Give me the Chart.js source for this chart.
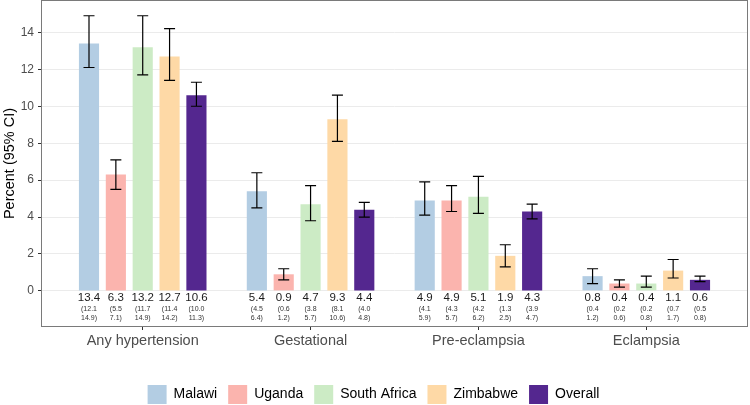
<!DOCTYPE html>
<html>
<head>
<meta charset="utf-8">
<script src="https://cdn.jsdelivr.net/npm/chart.js@4.4.1/dist/chart.umd.min.js"></script>
<style>
  html, body { margin: 0; padding: 0; background: #fff; }
  #wrap { width: 750px; height: 405px; }
</style>
</head>
<body>
<div id="wrap"><canvas id="chart" width="750" height="405"></canvas></div>
<script>
const categories = ["Any hypertension", "Gestational", "Pre-eclampsia", "Eclampsia"];
const countries = ["Malawi", "Uganda", "South Africa", "Zimbabwe", "Overall"];
const colors = ["#B3CDE3", "#FBB4AE", "#CCEBC5", "#FED9A6", "#54278F"];
const yTicks = [0, 2, 4, 6, 8, 10, 12, 14];

const malawi = [13.4, 5.4, 4.9, 0.8];
const malawiLow = [12.1, 4.5, 4.1, 0.4];
const malawiHigh = [14.9, 6.4, 5.9, 1.2];

const uganda = [6.3, 0.9, 4.9, 0.4];
const ugandaLow = [5.5, 0.6, 4.3, 0.2];
const ugandaHigh = [7.1, 1.2, 5.7, 0.6];

const southAfrica = [13.2, 4.7, 5.1, 0.4];
const southAfricaLow = [11.7, 3.8, 4.2, 0.2];
const southAfricaHigh = [14.9, 5.7, 6.2, 0.8];

const zimbabwe = [12.7, 9.3, 1.9, 1.1];
const zimbabweLow = [11.4, 8.1, 1.3, 0.7];
const zimbabweHigh = [14.2, 10.6, 2.5, 1.7];

const overall = [10.6, 4.4, 4.3, 0.6];
const overallLow = [10.0, 4.0, 3.9, 0.5];
const overallHigh = [11.3, 4.8, 4.7, 0.8];

const values = [malawi, uganda, southAfrica, zimbabwe, overall];
const lows = [malawiLow, ugandaLow, southAfricaLow, zimbabweLow, overallLow];
const highs = [malawiHigh, ugandaHigh, southAfricaHigh, zimbabweHigh, overallHigh];

const FONT = "'Liberation Sans', Arial, sans-serif";

// error bars + value / CI labels under each bar, panel border
const barExtras = {
    id: "barExtras",
    beforeInit(chart) {
        // legend sits lower than chart.js puts it
        const fit = chart.legend.fit;
        chart.legend.fit = function () {
            fit.bind(chart.legend)();
            this.height -= 9;
        };
    },
    afterDatasetsDraw(chart) {
        const ctx = chart.ctx;
        const y = chart.scales.y;
        ctx.save();
        chart.data.datasets.forEach((ds, i) => {
            const meta = chart.getDatasetMeta(i);
            meta.data.forEach((bar, j) => {
                const x = bar.x;
                const top = y.getPixelForValue(ds.high[j]);
                const bot = y.getPixelForValue(ds.low[j]);
                ctx.strokeStyle = "#000";
                ctx.lineWidth = 1.2;
                ctx.beginPath();
                ctx.moveTo(x, top); ctx.lineTo(x, bot);
                ctx.moveTo(x - 5.5, top); ctx.lineTo(x + 5.5, top);
                ctx.moveTo(x - 5.5, bot); ctx.lineTo(x + 5.5, bot);
                ctx.stroke();

                ctx.textAlign = "center";
                ctx.textBaseline = "middle";
                ctx.fillStyle = "#1a1a1a";
                ctx.font = "11.5px " + FONT;
                ctx.fillText(ds.data[j].y.toFixed(1), x, y.getPixelForValue(-0.38));
                ctx.fillStyle = "#333";
                ctx.font = "7px " + FONT;
                ctx.fillText("(" + ds.low[j].toFixed(1), x, y.getPixelForValue(-0.97));
                ctx.fillText(ds.high[j].toFixed(1) + ")", x, y.getPixelForValue(-1.49));
            });
        });
        ctx.restore();
    },
    afterDraw(chart) {
        const a = chart.chartArea;
        const ctx = chart.ctx;
        ctx.save();
        ctx.strokeStyle = "#7a7a7a";
        ctx.lineWidth = 1;
        ctx.strokeRect(a.left - 0.5, a.top - 0.5, a.right - a.left + 1, a.bottom - a.top + 1);
        ctx.restore();
    }
};

new Chart(document.getElementById("chart"), {
    type: "bar",
    data: {
        datasets: countries.map((name, i) => ({
            label: name,
            data: values[i].map((v, j) => ({ x: j + 1, y: v })),
            low: lows[i],
            high: highs[i],
            backgroundColor: colors[i],
            borderWidth: 0,
            categoryPercentage: 0.8,
            barPercentage: 0.75
        }))
    },
    options: {
        responsive: false,
        animation: false,
        layout: { padding: { top: 1, right: 3, bottom: 0, left: 0 } },
        plugins: {
            tooltip: { enabled: false },
            legend: {
                position: "bottom",
                labels: {
                    boxWidth: 19,
                    boxHeight: 19,
                    padding: 11,
                    color: "#000",
                    font: { family: FONT, size: 14 }
                }
            }
        },
        scales: {
            x: {
                type: "linear",
                min: 0.4,
                max: 4.6,
                offset: false,
                afterBuildTicks: (s) => { s.ticks = categories.map((c, i) => ({ value: i + 1 })); },
                afterFit: (s) => { s.height = 48; s.paddingLeft = 0; s.paddingRight = 0; },
                border: { display: false },
                grid: { offset: false, drawOnChartArea: false, tickLength: 4, tickColor: "#333" },
                ticks: {
                    padding: 2,
                    maxRotation: 0,
                    color: "#4d4d4d",
                    font: { family: FONT, size: 14.5 },
                    callback: (v) => categories[v - 1]
                }
            },
            y: {
                min: -1.9,
                max: 15.7,
                afterBuildTicks: (s) => { s.ticks = yTicks.map(v => ({ value: v })); },
                afterFit: (s) => { s.width = 42; s.paddingTop = 0; s.paddingBottom = 0; },
                border: { display: false },
                grid: { color: "#ebebeb", lineWidth: 1, tickLength: 4, tickColor: "#333" },
                ticks: {
                    padding: 4,
                    color: "#4d4d4d",
                    font: { family: FONT, size: 12 }
                },
                title: {
                    display: true,
                    text: "Percent (95% CI)",
                    color: "#000",
                    padding: { top: 1, bottom: 0 },
                    font: { family: FONT, size: 14.5 }
                }
            }
        }
    },
    plugins: [barExtras]
});
</script>
</body>
</html>
